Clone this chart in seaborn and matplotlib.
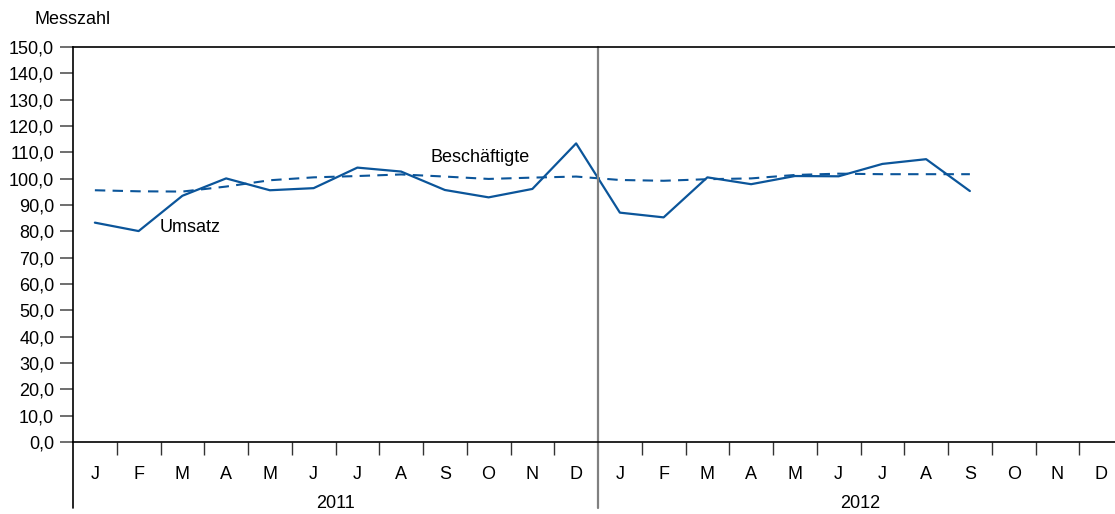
import pandas as pd
import seaborn as sns
import matplotlib.pyplot as plt
from matplotlib.ticker import FixedLocator, FuncFormatter

# data (index 2011 = 100)
months = ["J", "F", "M", "A", "M", "J", "J", "A", "S", "O", "N", "D"]
years = ["2011", "2012"]
umsatz = [83.3, 80.1, 93.5, 100.1, 95.6, 96.4, 104.2, 102.7, 95.7, 92.9, 96.1, 113.4,
          87.1, 85.3, 100.5, 97.9, 101.0, 100.9, 105.6, 107.4, 95.3]
beschaeftigte = [95.6, 95.2, 95.1, 97.0, 99.4, 100.5, 101.0, 101.6, 100.8, 99.9, 100.4, 100.8,
                 99.5, 99.2, 99.8, 100.1, 101.4, 101.9, 101.7, 101.7, 101.7]
yticks = list(range(0, 151, 10))

blue = "#0b559a"
fs = 13

df = pd.DataFrame({
    "pos": [i + 0.5 for i in range(len(umsatz))],
    "Umsatz": umsatz,
    "Beschäftigte": beschaeftigte,
})

sns.set_theme(style="white")
plt.rcParams["font.family"] = ["Liberation Sans", "DejaVu Sans"]
plt.rcParams["text.color"] = "black"

fig = plt.figure(figsize=(11.15, 5.14), dpi=100)
W, H = 1115, 514
ax = fig.add_axes([73 / W, 1 - 442 / H, 1050 / W, 395 / H])

sns.lineplot(data=df, x="pos", y="Umsatz", ax=ax, color=blue, linewidth=1.6)
sns.lineplot(data=df, x="pos", y="Beschäftigte", ax=ax, color=blue, linewidth=1.5)
ax.lines[-1].set_dashes((5, 3.5))

ax.set_xlim(0, 24)
ax.set_ylim(0, 150)
ax.set_xlabel("")
ax.set_ylabel("")

# y axis
ax.set_yticks(yticks)
ax.yaxis.set_major_formatter(FuncFormatter(lambda v, p: f"{v:.1f}".replace(".", ",")))
ax.tick_params(axis="y", which="major", direction="out", length=9.5, width=1.2,
               color="#555555", labelsize=fs, labelcolor="black", pad=4, left=True)

# x axis: month labels at centers, ticks at boundaries
ax.set_xticks([i + 0.5 for i in range(24)])
ax.set_xticklabels(months * 2)
ax.tick_params(axis="x", which="major", length=0, labelsize=fs, pad=17, labelcolor="black")
ax.xaxis.set_minor_locator(FixedLocator([i for i in range(1, 24) if i != 12]))
ax.tick_params(axis="x", which="minor", direction="out", length=9.5, width=1.0,
               color="#333333", bottom=True)

for name, sp in ax.spines.items():
    sp.set_color("black")
    sp.set_linewidth(1.2)
ax.spines["right"].set_visible(False)

# extended left spine and year separator
ext = -(508 - 442) / 395
ax.plot([0, 0], [ext, 0], transform=ax.get_xaxis_transform(), color="black",
        linewidth=1.2, clip_on=False)
ax.plot([12, 12], [ext, 1], transform=ax.get_xaxis_transform(), color="#808080",
        linewidth=1.6, clip_on=False)

# year labels
for i, yr in enumerate(years):
    ax.text(6 + 12 * i, -(503 - 442) / 395, yr, transform=ax.get_xaxis_transform(),
            ha="center", va="center", fontsize=fs, color="black")

# series labels
ax.text(1.99, 81.6, "Umsatz", ha="left", va="center", fontsize=fs, color="black")
ax.text(8.18, 108.2, "Beschäftigte", ha="left", va="center", fontsize=fs, color="black")

fig.text(35 / W, 1 - 20 / H, "Messzahl", ha="left", va="center", fontsize=fs, color="black")

fig.savefig("out.png", dpi=100)
